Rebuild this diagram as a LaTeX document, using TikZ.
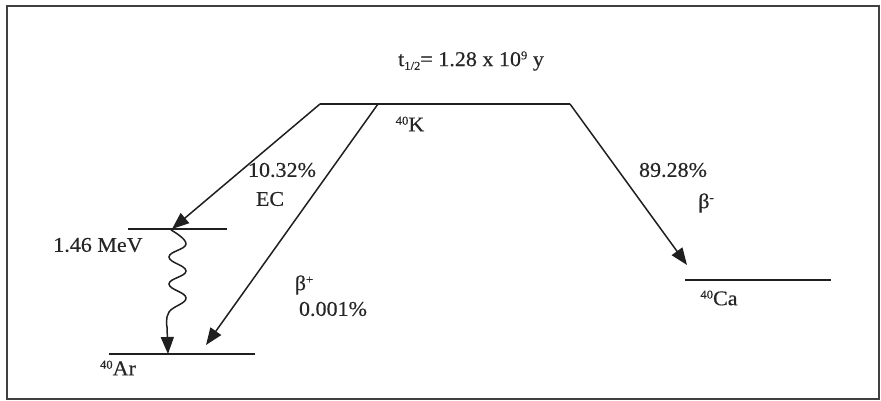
\documentclass[tikz,border=0pt]{standalone}
\usepackage{fontspec}
\setmainfont{Liberation Serif}[FakeStretch=1.05,FakeBold=0.4]
\usetikzlibrary{arrows.meta}
\newcommand\supx[1]{\raisebox{0.32em}{\fontsize{12}{12}\selectfont #1}}
\newcommand\subx[1]{\raisebox{-0.18em}{\fontsize{12}{12}\selectfont #1}}
\begin{document}
\begin{tikzpicture}[x=1pt,y=-1pt,
  lvl/.style={line width=1.6pt, draw=black!88},
  trans/.style={line width=1.5pt, draw=black!88, -{Triangle[length=17pt,width=13pt]}},
  lbl/.style={font=\fontsize{21}{24}\selectfont, text=black!85, inner sep=0pt}]
\useasboundingbox (0,0) rectangle (881,401);
\draw[line width=1.6pt, black!75] (7,6) rectangle (879,399);
% levels
\coordinate (K1) at (320,104); \coordinate (Kb) at (378,104); \coordinate (K2) at (570,104);
\coordinate (M1) at (128,229); \coordinate (M2) at (227,229); \coordinate (Mx) at (172,229);
\coordinate (A1) at (109,354); \coordinate (A2) at (255,354); \coordinate (Ag) at (168,354); \coordinate (Ab) at (206,345);
\coordinate (C1) at (685,280); \coordinate (C2) at (831,280); \coordinate (Ct) at (687,265);
\draw[lvl] (K1) -- (K2);
\draw[lvl] (M1) -- (M2);
\draw[lvl] (A1) -- (A2);
\draw[lvl] (C1) -- (C2);
% transitions
\draw[trans] (K1) -- (Mx);
\draw[trans] (Kb) -- (Ab);
\draw[trans] (K2) -- (Ct);
\draw[trans] plot[smooth, tension=0.75] coordinates {(171,230) (186,244) (169,257) (186,271) (169,284) (186,298) (169,312) (167,327)} -- (Ag);
% labels
\node[lbl] (title) at (471,61) {t\subx{1/2}= 1.28 x 10\supx{9} y};
\node[lbl] (K) at (410,124) {\supx{40}K};
\node[lbl] (ecp) at (282,170) {10.32\%};
\node[lbl] (ec) at (270,199) {EC};
\node[lbl] (mev) at (98,245) {1.46 MeV};
\node[lbl] (bp) at (304,285) {β\supx{+}};
\node[lbl] (bpp) at (333,309) {0.001\%};
\node[lbl] (Ar) at (118,368) {\supx{40}Ar};
\node[lbl] (bmp) at (673,170) {89.28\%};
\node[lbl] (bm) at (706,203) {β\supx{-}};
\node[lbl] (Ca) at (719,298) {\supx{40}Ca};
\end{tikzpicture}
\end{document}
